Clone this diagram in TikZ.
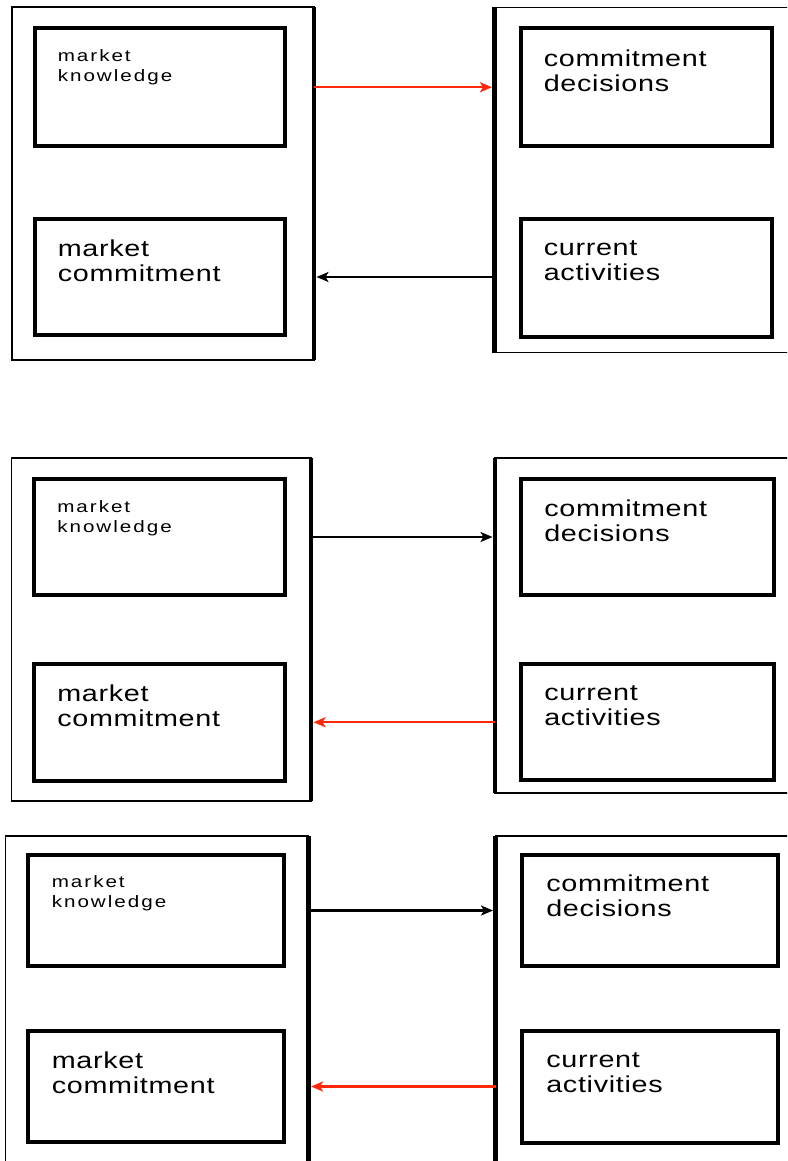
\documentclass[tikz,border=0pt]{standalone}
\usepackage{fontspec}
\newfontfamily\smallboxfont[FakeStretch=1.25,LetterSpace=12]{Liberation Sans}
\newfontfamily\largeboxfont[FakeStretch=1.25,LetterSpace=3]{Liberation Sans}
\usetikzlibrary{arrows.meta}
\definecolor{flowred}{RGB}{255,40,10}

\begin{document}
\begin{tikzpicture}[x=1pt,y=-1pt,>={Stealth[length=12pt,width=10pt,inset=3pt]},semithick]
        \tikzstyle{outer}=[draw,line width=1.5pt,rectangle,anchor=north west,outer sep=0pt,inner sep=0pt]
        \tikzstyle{inner}=[draw,line width=4pt,rectangle,anchor=north west,outer sep=0pt,inner sep=0pt]
        \tikzstyle{smalltext}=[anchor=north west,inner sep=0pt,align=left,font=\smallboxfont\fontsize{16.5}{20}\selectfont]
        \tikzstyle{largetext}=[anchor=north west,inner sep=0pt,align=left,font=\largeboxfont\fontsize{23}{25}\selectfont]
        \tikzstyle{side}=[line width=4.5pt]
        \tikzstyle{flow}=[->,line width=2.4pt,shorten >=2.5pt]

        \clip (0,0) rectangle (787,1161);

        % first picture
        \node[outer,minimum width=302pt,minimum height=353pt]   (lo1) at (12,7)      {};
        \node[outer,minimum width=316pt,minimum height=345pt]   (ro1) at (494.5,7.5) {};
        \draw[side] (lo1.north east) -- (lo1.south east);
        \draw[side] (ro1.north west) -- (ro1.south west);
        \node[inner,minimum width=250.5pt,minimum height=117.5pt] (lk1) at (34.5,28.5) {};
        \node[inner,minimum width=250.5pt,minimum height=116pt]   (lc1) at (34.5,219)  {};
        \node[inner,minimum width=251.5pt,minimum height=117.5pt] (rd1) at (520.5,28.5) {};
        \node[inner,minimum width=251.5pt,minimum height=118pt]   (ra1) at (520.5,219) {};
        \node[smalltext] (lk1t) at ([shift={(23,21)}]lk1.north west) {market\\knowledge};
        \node[largetext] (lc1t) at ([shift={(23,21)}]lc1.north west) {market\\commitment};
        \node[largetext] (rd1t) at ([shift={(23,21)}]rd1.north west) {commitment\\decisions};
        \node[largetext] (ra1t) at ([shift={(23,21)}]ra1.north west) {current\\activities};
        \draw[flow,flowred] (lo1.east |- lk1.center) -- (ro1.west |- lk1.center);
        \draw[flow]         (ro1.west |- lc1.center) -- (lo1.east |- lc1.center);

        % second picture
        \node[outer,minimum width=299.5pt,minimum height=343pt] (lo2) at (11.5,458) {};
        \node[outer,minimum width=315pt,minimum height=335pt]   (ro2) at (495,458)  {};
        \draw[side] (lo2.north east) -- (lo2.south east);
        \draw[side] (ro2.north west) -- (ro2.south west);
        \node[inner,minimum width=251pt,minimum height=116pt]   (lk2) at (34,479)  {};
        \node[inner,minimum width=251pt,minimum height=116.5pt] (lc2) at (34,664)  {};
        \node[inner,minimum width=253pt,minimum height=116pt]   (rd2) at (521,479) {};
        \node[inner,minimum width=253pt,minimum height=116pt]   (ra2) at (521,664) {};
        \node[smalltext] (lk2t) at ([shift={(23,21)}]lk2.north west) {market\\knowledge};
        \node[largetext] (lc2t) at ([shift={(23,21)}]lc2.north west) {market\\commitment};
        \node[largetext] (rd2t) at ([shift={(23,21)}]rd2.north west) {commitment\\decisions};
        \node[largetext] (ra2t) at ([shift={(23,21)}]ra2.north west) {current\\activities};
        \draw[flow]         (lo2.east |- lk2.center) -- (ro2.west |- lk2.center);
        \draw[flow,flowred] (ro2.west |- lc2.center) -- (lo2.east |- lc2.center);

        % third picture
        \node[outer,minimum width=303pt,minimum height=339pt] (lo3) at (5.5,836) {};
        \node[outer,minimum width=315pt,minimum height=339pt] (ro3) at (495.5,836) {};
        \draw[side] (lo3.north east) -- (lo3.south east);
        \draw[side] (ro3.north west) -- (ro3.south west);
        \node[inner,minimum width=256.5pt,minimum height=111pt] (lk3) at (27.5,855) {};
        \node[inner,minimum width=256.5pt,minimum height=111pt] (lc3) at (27.5,1031) {};
        \node[inner,minimum width=256pt,minimum height=111pt]   (rd3) at (522,855) {};
        \node[inner,minimum width=256pt,minimum height=112pt]   (ra3) at (522,1031) {};
        \node[smalltext] (lk3t) at ([shift={(24,20)}]lk3.north west) {market\\knowledge};
        \node[largetext] (lc3t) at ([shift={(24,21)}]lc3.north west) {market\\commitment};
        \node[largetext] (rd3t) at ([shift={(24,20)}]rd3.north west) {commitment\\decisions};
        \node[largetext] (ra3t) at ([shift={(24,21)}]ra3.north west) {current\\activities};
        \draw[flow]         (lo3.east |- lk3.center) -- (ro3.west |- lk3.center);
        \draw[flow,flowred] (ro3.west |- lc3.center) -- (lo3.east |- lc3.center);
\end{tikzpicture}
\end{document}
